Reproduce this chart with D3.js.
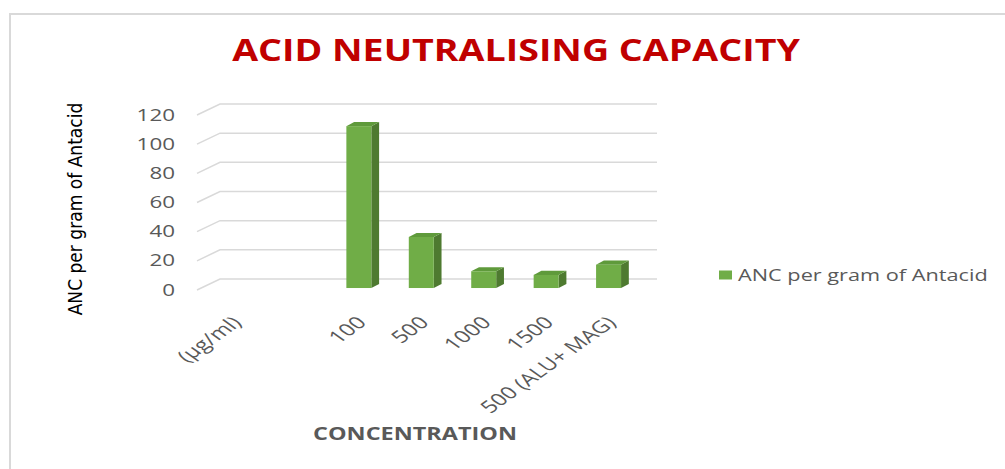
<!DOCTYPE html>
<html><head><meta charset="utf-8">
<script src="https://cdn.jsdelivr.net/npm/d3@7"></script>
<style>body{margin:0;background:#fff}svg{display:block}</style>
</head><body>
<script>
const categories = ["(µg/ml)", "", "100", "500", "1000", "1500", "500 (ALU+ MAG)"];
const values = [null, null, 111, 35, 11.5, 9, 16];
const yTicks = [0, 20, 40, 60, 80, 100, 120];
const seriesName = "ANC per gram of Antacid";
const title = "ACID NEUTRALISING CAPACITY";
const xTitle = "CONCENTRATION";
const yTitle = "ANC per gram of Antacid";

const W = 1005, H = 469;
const svg = d3.select("body").append("svg").attr("width", W).attr("height", H);
svg.append("rect").attr("x", 10).attr("y", 14).attr("width", W).attr("height", H)
  .attr("fill", "#fff").attr("stroke", "#d9d9d9").attr("stroke-width", 2);

const font = "'Open Sans', Calibri, sans-serif";
const SX = 1.4; // horizontal stretch of the text, as in the reference picture
function fitText(sel, cx, cy, target) {
  const len = sel.node().getComputedTextLength();
  sel.attr("transform", `translate(${cx},${cy}) scale(${target / len},1)`);
}

// depth vector (front plane -> back wall)
const DX = 21, DY = -11;
const x = d3.scaleBand().domain(categories).range([199, 636]).padding(0);
const y = d3.scaleLinear().domain([0, 120]).range([290, 115]);

// gridlines: diagonal on left side + back wall line
const g = svg.append("g");
yTicks.forEach(t => {
  const yf = y(t);
  g.append("path")
    .attr("d", `M${x.range()[0] - 2},${yf} L${x.range()[0] + DX},${yf + DY} L${x.range()[1] + DX},${yf + DY}`)
    .attr("fill", "none").attr("stroke", "#d9d9d9").attr("stroke-width", 1.5);
});

// y tick labels
svg.append("g").selectAll("text").data(yTicks).join("text")
  .attr("transform", d => `translate(175,${y(d)}) scale(${SX},1)`).attr("dy", "0.35em")
  .attr("text-anchor", "end").attr("font-family", font).attr("font-size", 16)
  .attr("fill", "#595959").text(d => d);

// bars (3D)
const f0 = 0.18, f1 = 0.55;
const bw = x.bandwidth() * 0.4;
const barData = categories.map((c, i) => ({c, v: values[i]})).filter(d => d.v != null);
const bars = svg.append("g").selectAll("g").data(barData).join("g");
bars.each(function(d) {
  const gg = d3.select(this);
  const cx = x(d.c) + x.bandwidth() / 2 + f0 * DX;
  const x0 = cx - bw / 2, x1 = cx + bw / 2;
  const yb = y(0) + f0 * DY, yt = y(d.v) + f0 * DY;
  const ddx = (f1 - f0) * DX, ddy = (f1 - f0) * DY;
  gg.append("path").attr("d", `M${x1},${yb} L${x1 + ddx},${yb + ddy} L${x1 + ddx},${yt + ddy} L${x1},${yt} Z`)
    .attr("fill", "#4e7a30");
  gg.append("path").attr("d", `M${x0},${yt} L${x0 + ddx},${yt + ddy} L${x1 + ddx},${yt + ddy} L${x1},${yt} Z`)
    .attr("fill", "#5f9a3b");
  gg.append("rect").attr("x", x0).attr("y", yt).attr("width", bw).attr("height", yb - yt)
    .attr("fill", "#70ad47");
});

// x category labels (rotated, stretched)
svg.append("g").selectAll("text").data(categories).join("text")
  .attr("transform", d => `translate(${x(d) + x.bandwidth() / 2 + 6},319) scale(${SX},1) rotate(-45)`)
  .attr("text-anchor", "end").attr("dominant-baseline", "central")
  .attr("font-family", font).attr("font-size", 17).attr("fill", "#595959")
  .text(d => d);

// title
const tt = svg.append("text").attr("dy", "0.35em")
  .attr("text-anchor", "middle").attr("font-family", font).attr("font-weight", "bold")
  .attr("font-size", 31).attr("fill", "#c00000").text(title);
fitText(tt, 516, 50, 568);

// x axis title
const xt = svg.append("text").attr("dy", "0.35em")
  .attr("text-anchor", "middle").attr("font-family", font).attr("font-weight", "bold")
  .attr("font-size", 17.5).attr("fill", "#595959").text(xTitle);
fitText(xt, 415, 434, 204);

// y axis title
svg.append("text").attr("transform", "translate(75,209) rotate(-90)").attr("dy", "0.35em")
  .attr("text-anchor", "middle").attr("font-family", "'Liberation Sans Narrow','DejaVu Sans Condensed',sans-serif")
  .attr("font-size", 19).attr("fill", "#000").text(yTitle);

// legend
const lg = svg.append("g");
lg.append("rect").attr("x", 719).attr("y", 270.5).attr("width", 13).attr("height", 9).attr("fill", "#70ad47");
const lt = lg.append("text").attr("dy", "0.35em")
  .attr("font-family", font).attr("font-size", 16.5).attr("fill", "#595959").text(seriesName);
fitText(lt, 738, 275, 250);
</script>
</body></html>
